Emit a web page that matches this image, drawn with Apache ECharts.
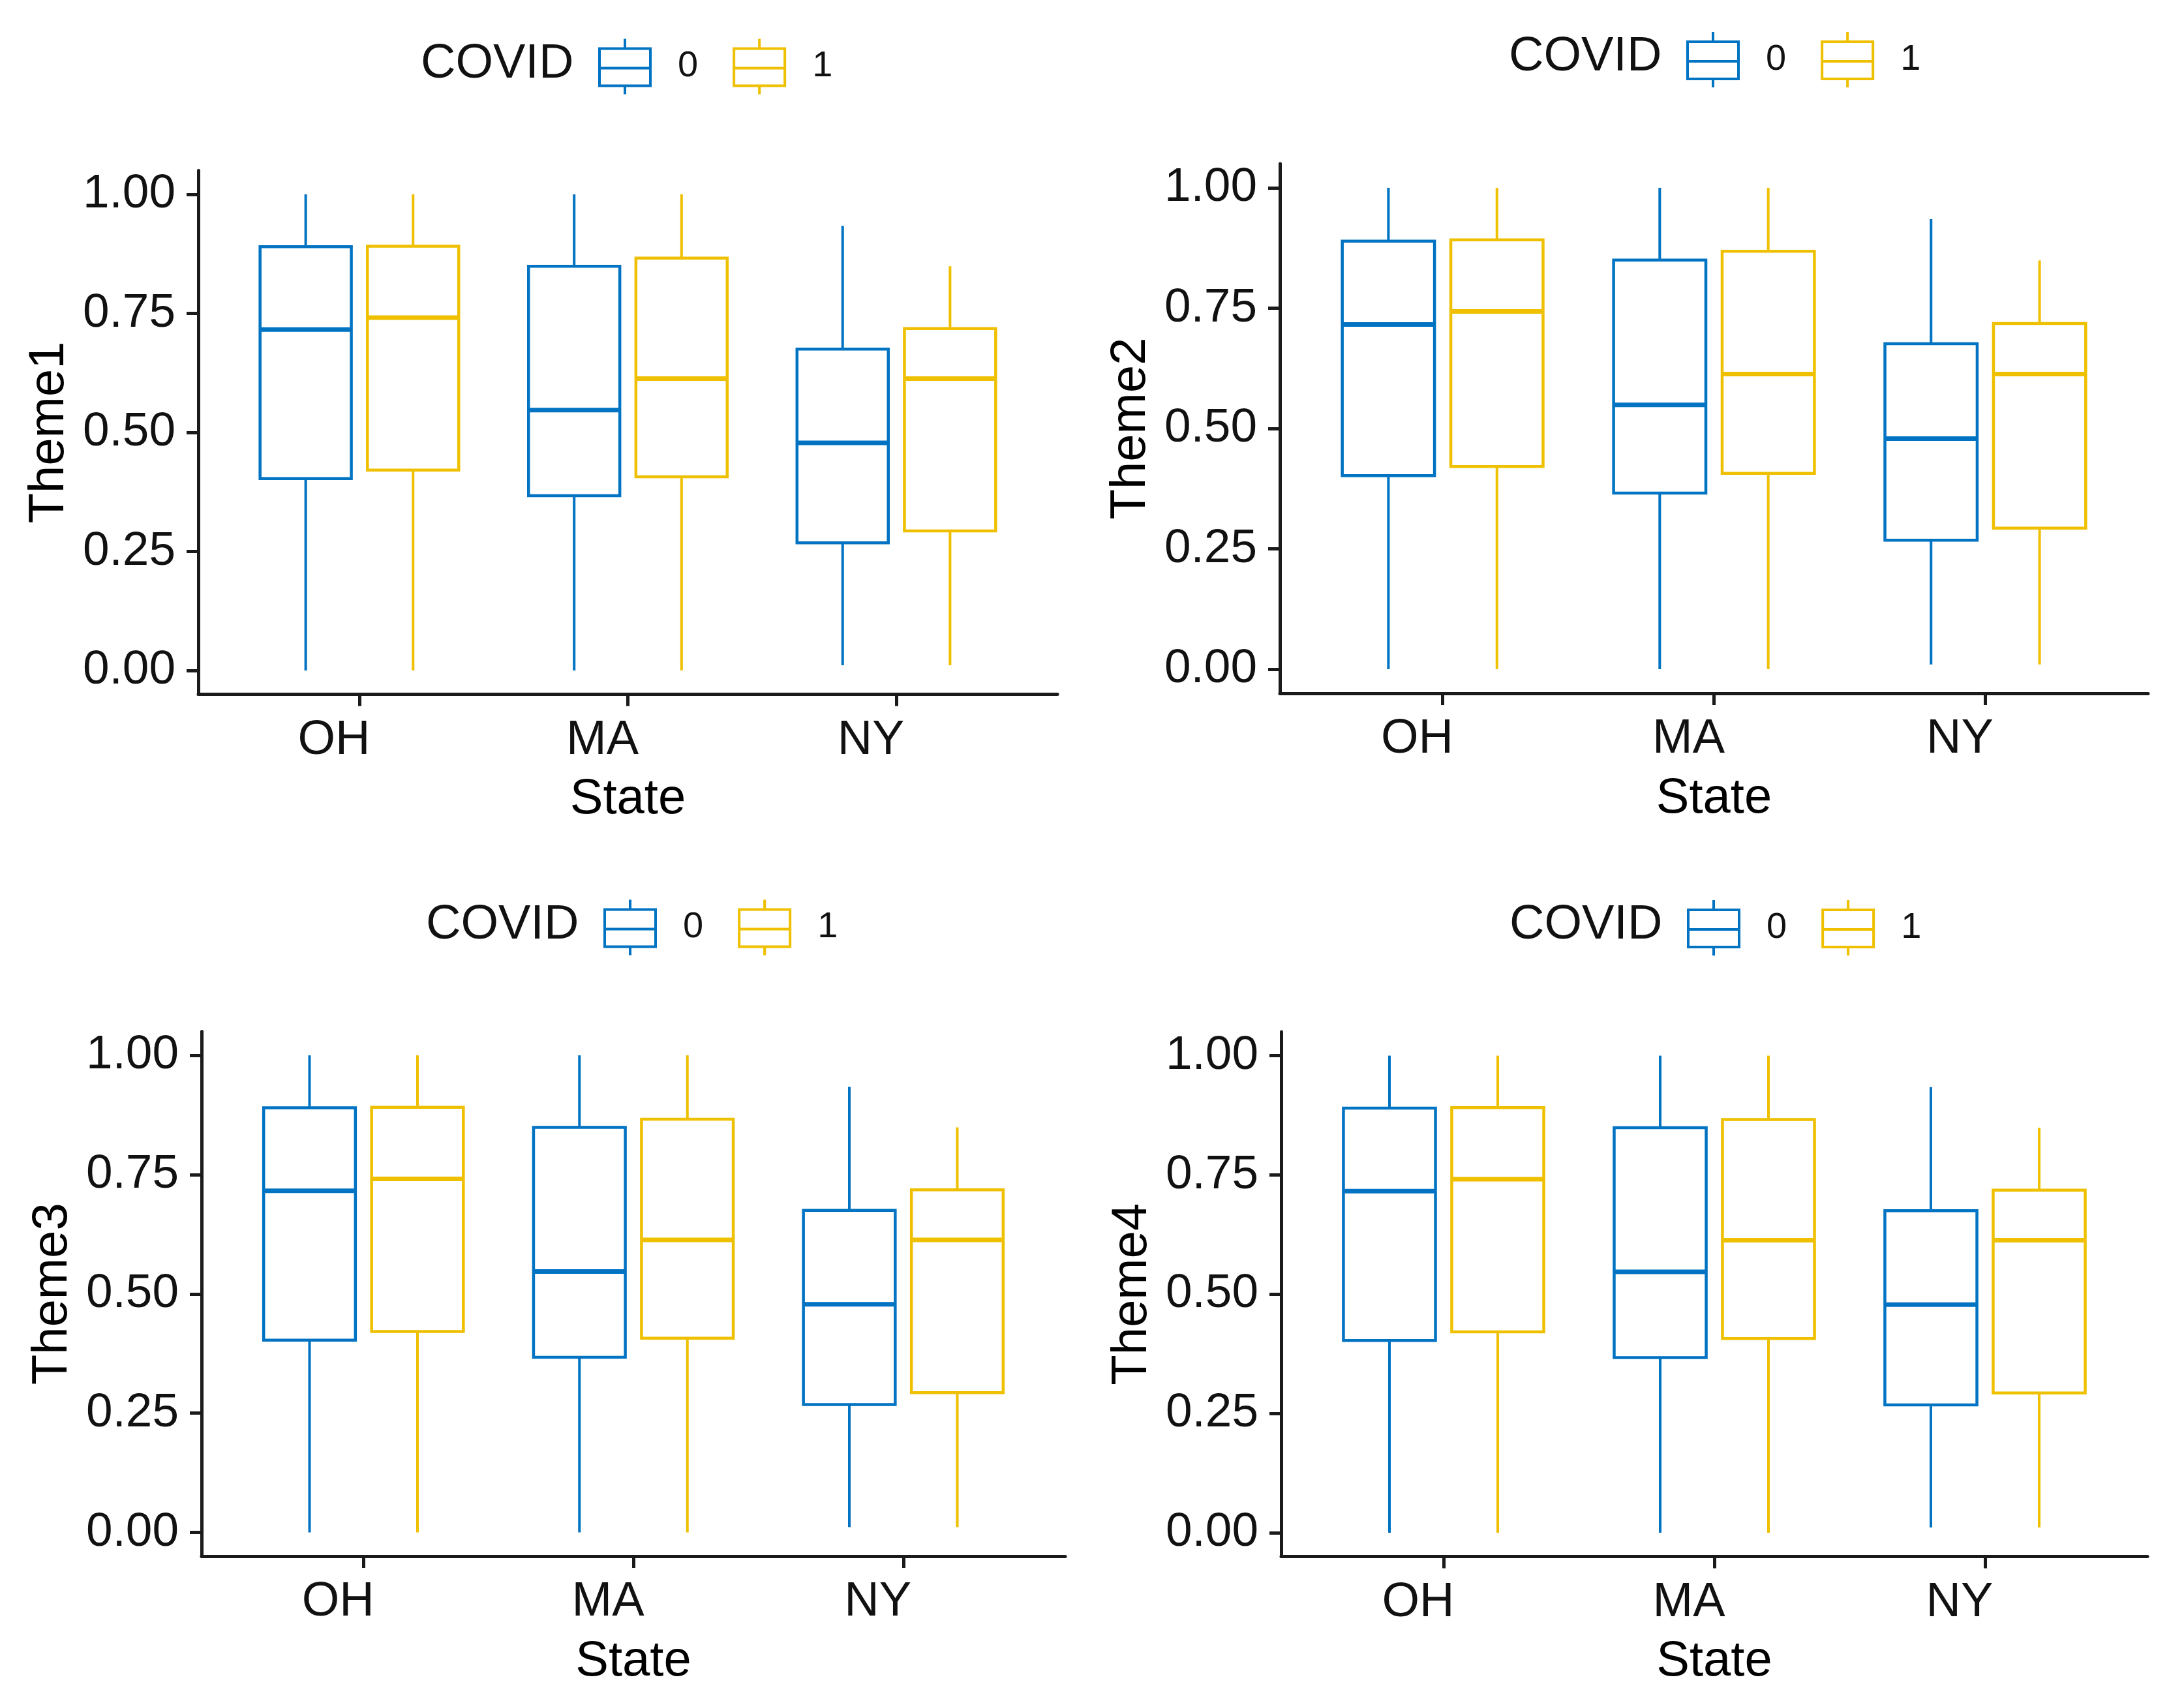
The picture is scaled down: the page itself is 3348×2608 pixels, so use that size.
<!DOCTYPE html>
<html><head><meta charset="utf-8">
<script src="https://cdn.jsdelivr.net/npm/echarts@6/dist/echarts.min.js"></script>
<style>html,body{margin:0;padding:0;background:#fff}#c{width:3348px;height:2608px}</style>
</head><body><div id="c"></div>
<script>
// ---------------- data ----------------
const states = ['OH', 'MA', 'NY'];
const yTicks = [0, 0.25, 0.5, 0.75, 1];
const yTickLabels = ['0.00', '0.25', '0.50', '0.75', '1.00'];
const groupNames = ['0', '1'];
const legendTitle = 'COVID';
const xTitle = 'State';
const panelThemes = ['Theme1', 'Theme2', 'Theme3', 'Theme4'];
// [min, Q1, median, Q3, max] for OH, MA, NY
const theme1Covid0 = [[0.00, 0.403, 0.716, 0.890, 1.00], [0.00, 0.367, 0.547, 0.849, 1.00], [0.011, 0.268, 0.478, 0.675, 0.934]];
const theme1Covid1 = [[0.00, 0.421, 0.741, 0.891, 1.00], [0.00, 0.407, 0.613, 0.866, 1.00], [0.011, 0.293, 0.613, 0.718, 0.849]];
const theme2Covid0 = [[0.00, 0.402, 0.716, 0.889, 1.00], [0.00, 0.366, 0.549, 0.850, 1.00], [0.010, 0.268, 0.479, 0.676, 0.935]];
const theme2Covid1 = [[0.00, 0.421, 0.743, 0.892, 1.00], [0.00, 0.407, 0.613, 0.868, 1.00], [0.010, 0.293, 0.613, 0.718, 0.849]];
const theme3Covid0 = [[0.00, 0.403, 0.716, 0.890, 1.00], [0.00, 0.367, 0.547, 0.849, 1.00], [0.011, 0.268, 0.478, 0.675, 0.934]];
const theme3Covid1 = [[0.00, 0.421, 0.741, 0.891, 1.00], [0.00, 0.407, 0.613, 0.866, 1.00], [0.011, 0.293, 0.613, 0.718, 0.849]];
const theme4Covid0 = [[0.00, 0.403, 0.716, 0.890, 1.00], [0.00, 0.367, 0.547, 0.849, 1.00], [0.011, 0.268, 0.478, 0.675, 0.934]];
const theme4Covid1 = [[0.00, 0.421, 0.741, 0.891, 1.00], [0.00, 0.407, 0.613, 0.866, 1.00], [0.011, 0.293, 0.613, 0.718, 0.849]];

// ---------------- style / layout ----------------
const FONT = '"Liberation Sans", Arial, sans-serif';
const COLORS = ['#0073C2', '#EFC000'];
const DODGE = [-0.2, 0.2];
const BOX_W = 0.34;
const AXIS_COLOR = '#1a1a1a';
const TEXT_COLOR = '#111';
const panels = [
  { left: 304, right: 1621, top: 261.5, bottom: 1064.5, legDx: 613 },
  { left: 1962, right: 3293, top: 251, bottom: 1063, legDx: 623 },
  { left: 309, right: 1633, top: 1581.5, bottom: 2386, legDx: 616 },
  { left: 1964, right: 3292, top: 1582, bottom: 2386.5, legDx: 622 }
];
const panelData = [
  [theme1Covid0, theme1Covid1],
  [theme2Covid0, theme2Covid1],
  [theme3Covid0, theme3Covid1],
  [theme4Covid0, theme4Covid1]
];
const ICON = 'path://M39,0L39,15M0,15L78,15L78,72L0,72ZM0,45L78,45M39,72L39,85';

function makeRender(offset, color) {
  return function (params, api) {
    const x = api.value(0) + offset;
    const pMin = api.coord([x, api.value(1)]);
    const pQ1 = api.coord([x, api.value(2)]);
    const pMed = api.coord([x, api.value(3)]);
    const pQ3 = api.coord([x, api.value(4)]);
    const pMax = api.coord([x, api.value(5)]);
    const w = api.size([BOX_W, 0])[0];
    const cx = pMed[0];
    return {
      type: 'group',
      children: [
        { type: 'line', shape: { x1: cx, y1: pMax[1], x2: cx, y2: pQ3[1] }, style: { stroke: color, lineWidth: 4 } },
        { type: 'line', shape: { x1: cx, y1: pQ1[1], x2: cx, y2: pMin[1] }, style: { stroke: color, lineWidth: 4 } },
        { type: 'rect', shape: { x: cx - w / 2, y: pQ3[1], width: w, height: pQ1[1] - pQ3[1] }, style: { fill: '#fff', stroke: color, lineWidth: 4.5 } },
        { type: 'line', shape: { x1: cx - w / 2, y1: pMed[1], x2: cx + w / 2, y2: pMed[1] }, style: { stroke: color, lineWidth: 7 } }
      ]
    };
  };
}

const grid = [], xAxis = [], yAxis = [], series = [], legend = [], title = [];
panels.forEach((p, i) => {
  grid.push({ left: p.left, top: p.top, width: p.right - p.left, height: p.bottom - p.top, containLabel: false });
  xAxis.push({
    gridIndex: i, type: 'value', min: 0.4, max: 3.6,
    axisLine: { show: true, onZero: false, lineStyle: { color: AXIS_COLOR, width: 5 } },
    axisTick: { show: true, customValues: [1, 2, 3], length: 18, lineStyle: { color: AXIS_COLOR, width: 5 } },
    axisLabel: { customValues: [1, 2, 3], formatter: v => states[Math.round(v) - 1], fontSize: 74, margin: 34, padding: [0, 78, 0, 0], color: TEXT_COLOR, fontFamily: FONT },
    splitLine: { show: false },
    name: xTitle, nameLocation: 'middle', nameGap: 124,
    nameTextStyle: { fontSize: 76, color: '#000', fontFamily: FONT }
  });
  yAxis.push({
    gridIndex: i, type: 'value', min: -0.05, max: 1.05,
    axisLine: { show: true, onZero: false, lineStyle: { color: AXIS_COLOR, width: 5 } },
    axisTick: { show: true, customValues: yTicks, length: 18, lineStyle: { color: AXIS_COLOR, width: 5 } },
    axisLabel: { customValues: yTicks, formatter: v => yTickLabels[yTicks.indexOf(Math.round(v * 100) / 100)], fontSize: 73, margin: 35, color: TEXT_COLOR, fontFamily: FONT },
    splitLine: { show: false },
    name: panelThemes[i], nameLocation: 'middle', nameGap: 190,
    nameTextStyle: { fontSize: 76, color: '#000', fontFamily: FONT }
  });
  panelData[i].forEach((stats, g) => {
    series.push({
      type: 'custom', name: groupNames[g], xAxisIndex: i, yAxisIndex: i,
      itemStyle: { color: COLORS[g] },
      encode: { x: 0, y: [1, 2, 3, 4, 5] },
      renderItem: makeRender(DODGE[g], COLORS[g]),
      data: states.map((s, k) => [k + 1].concat(stats[k]))
    });
  });
  const legLeft = p.left + p.legDx;
  const legTop = p.top - 204;
  legend.push({
    left: legLeft, top: legTop, padding: 0, orient: 'horizontal', itemGap: 53,
    itemWidth: 78, itemHeight: 85, icon: ICON, selectedMode: false,
    data: groupNames.map((n, g) => ({ name: n, itemStyle: { color: '#fff', borderColor: COLORS[g], borderWidth: 4 } })),
    textStyle: { fontSize: 56, color: TEXT_COLOR, fontFamily: FONT, padding: [0, 0, 0, 37] }
  });
  title.push({
    text: legendTitle, left: legLeft - 272, top: legTop + 4, padding: 0,
    textStyle: { fontSize: 74, fontWeight: 'normal', color: '#111', fontFamily: FONT }
  });
});

const chart = echarts.init(document.getElementById('c'), null, { renderer: 'canvas' });
chart.setOption({ backgroundColor: '#fff', animation: false, grid, xAxis, yAxis, series, legend, title });
</script>
</body></html>
